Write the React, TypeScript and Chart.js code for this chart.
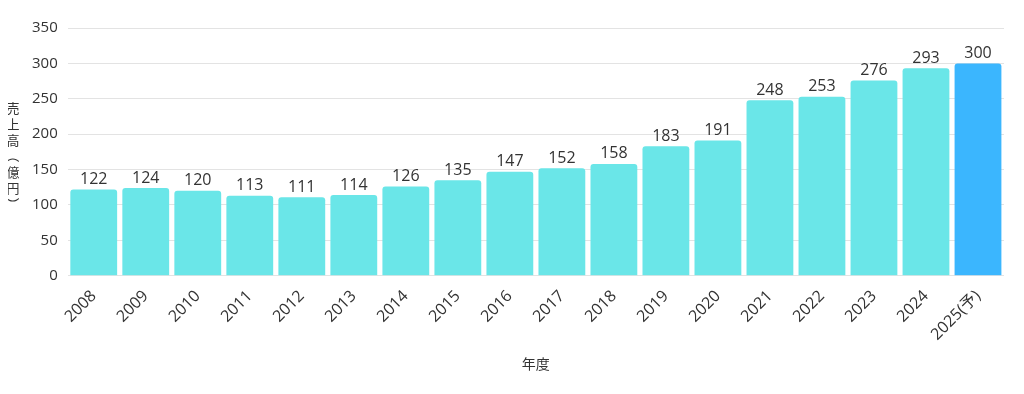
import React, { useEffect, useRef } from "react";
import { Chart, registerables } from "chart.js";

Chart.register(...registerables);

const categories = ["2008","2009","2010","2011","2012","2013","2014","2015","2016","2017","2018","2019","2020","2021","2022","2023","2024","2025(予)"];
const sales = [122,124,120,113,111,114,126,135,147,152,158,183,191,248,253,276,293,300];
const barColors = sales.map((_, i) => (i === sales.length - 1 ? "#3bb6fe" : "#6ae6e8"));
const yTitleChars = ["売","上","高","（","億","円","）"];
const xTitle = "年度";

const FONT = "'Open Sans', 'Noto Sans CJK JP', sans-serif";
const CJK = "'Noto Sans CJK JP', sans-serif";

const dataLabelPlugin = {
  id: "dataLabels",
  afterDatasetsDraw(chart: any) {
    const ctx = chart.ctx;
    const meta = chart.getDatasetMeta(0);
    ctx.save();
    ctx.font = `16px ${FONT}`;
    ctx.fillStyle = "#333333";
    ctx.textAlign = "center";
    ctx.textBaseline = "bottom";
    meta.data.forEach((bar: any, i: number) => {
      ctx.fillText(String(sales[i]), bar.x, bar.y - 2);
    });
    ctx.restore();
  },
};

const yTitlePlugin = {
  id: "yTitleVertical",
  afterDraw(chart: any) {
    const ctx = chart.ctx;
    const area = chart.chartArea;
    ctx.save();
    ctx.font = `13px ${CJK}`;
    ctx.fillStyle = "#333333";
    ctx.textAlign = "center";
    ctx.textBaseline = "middle";
    const step = 16;
    const mid = (area.top + area.bottom) / 2 + 4;
    const start = mid - ((yTitleChars.length - 1) * step) / 2;
    const cx = 5;
    yTitleChars.forEach((c, i) => {
      const y = start + i * step;
      if (c === "（" || c === "）") {
        ctx.save();
        ctx.translate(cx, y);
        ctx.rotate(Math.PI / 2);
        ctx.fillText(c, 0, 0);
        ctx.restore();
      } else {
        ctx.fillText(c, cx, y);
      }
    });
    ctx.restore();
  },
};

export default function App() {
  const ref = useRef<HTMLCanvasElement>(null);
  useEffect(() => {
    if (!ref.current) return;
    const chart = new Chart(ref.current, {
      type: "bar",
      data: {
        labels: categories,
        datasets: [
          {
            data: sales,
            backgroundColor: barColors,
            borderRadius: { topLeft: 3, topRight: 3, bottomLeft: 0, bottomRight: 0 },
            borderSkipped: false,
            barPercentage: 0.9,
            categoryPercentage: 1,
          },
        ],
      },
      options: {
        animation: false,
        responsive: true,
        maintainAspectRatio: false,
        layout: { padding: { left: 14, top: 20, right: 12, bottom: 10 } },
        plugins: { legend: { display: false }, tooltip: { enabled: false } },
        scales: {
          x: {
            grid: { display: false },
            border: { display: false },
            ticks: {
              color: "#333333",
              font: { size: 16, family: FONT },
              maxRotation: 45,
              minRotation: 45,
              autoSkip: false,
            },
            title: {
              display: true,
              text: xTitle,
              color: "#333333",
              font: { size: 14, family: CJK },
              padding: { top: 8 },
            },
          },
          y: {
            min: 0,
            max: 350,
            ticks: {
              stepSize: 50,
              color: "#333333",
              font: { size: 15, family: FONT },
              padding: 10,
            },
            grid: { color: "#e3e3e3", drawTicks: false },
            border: { display: false },
          },
        },
      },
      plugins: [dataLabelPlugin, yTitlePlugin],
    });
    return () => chart.destroy();
  }, []);
  return (
    <div style={{ width: 1008, height: 378, position: "relative" }}>
      <canvas ref={ref} />
    </div>
  );
}
